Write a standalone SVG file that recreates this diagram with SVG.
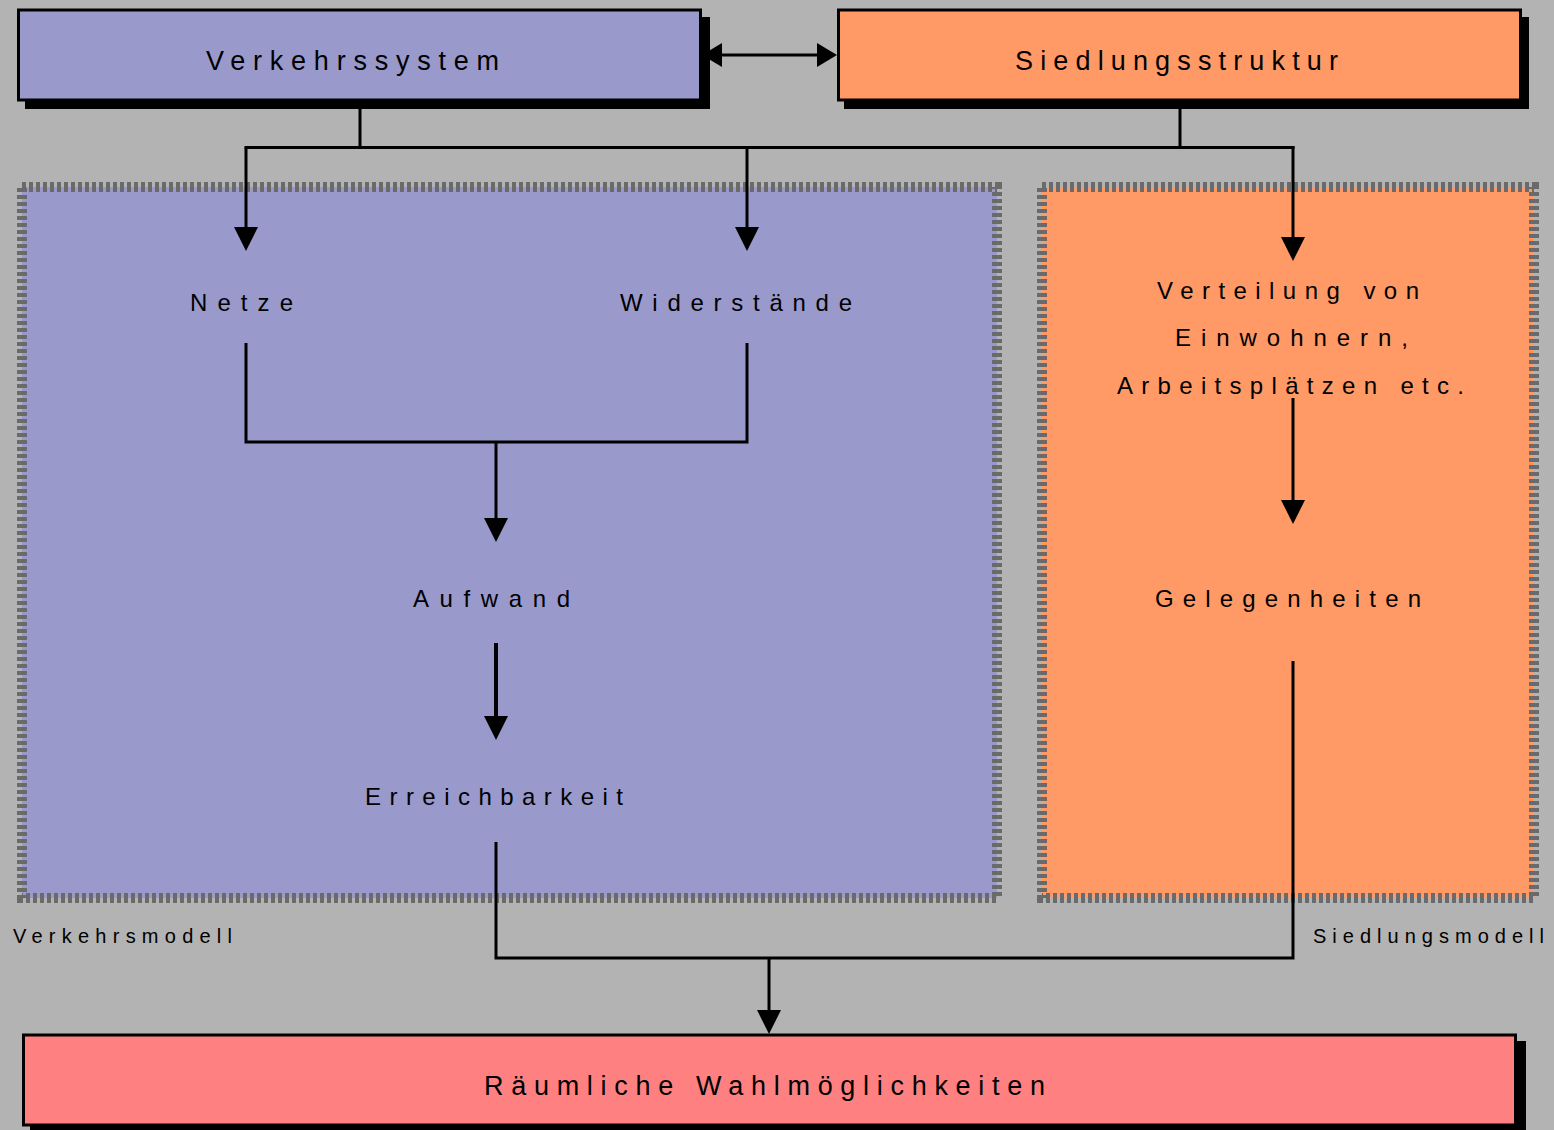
<svg xmlns="http://www.w3.org/2000/svg" width="1554" height="1130" viewBox="0 0 1554 1130">
<defs>
<style>
.bg{fill:#B3B3B3}
.region{stroke:#6A6A6A;stroke-width:10;stroke-dasharray:4 3}
.shadow{fill:#000}
.box{stroke:#000;stroke-width:3}
.ln{fill:none;stroke:#000;stroke-width:3}
.hd{fill:#000}
text{font-family:"Liberation Sans",Arial,sans-serif;fill:#000}
.t1{font-size:27px}
.t2{font-size:24px}
.t3{font-size:20px}
</style>
</defs>
<rect class="bg" x="0" y="0" width="1554" height="1130"/>
<g id="verkehrsmodell">
<rect class="region" x="22" y="187" width="975" height="711" fill="#9999CC"/>
<text class="t3" x="13" y="943" textLength="219" lengthAdjust="spacing">Verkehrsmodell</text>
</g>
<g id="siedlungsmodell">
<rect class="region" x="1042" y="187" width="492" height="711" fill="#FF9966"/>
<text class="t3" x="1313" y="943" textLength="231" lengthAdjust="spacing">Siedlungsmodell</text>
</g>
<g id="netze"><text class="t2" x="190" y="311" textLength="103" lengthAdjust="spacing">Netze</text></g>
<g id="widerstaende"><text class="t2" x="620" y="311" textLength="232" lengthAdjust="spacing">Widerstände</text></g>
<g id="aufwand"><text class="t2" x="413" y="607" textLength="157" lengthAdjust="spacing">Aufwand</text></g>
<g id="erreichbarkeit"><text class="t2" x="365" y="805" textLength="258" lengthAdjust="spacing">Erreichbarkeit</text></g>
<g id="verteilung">
<text class="t2" x="1157" y="299" textLength="262" lengthAdjust="spacing">Verteilung von</text>
<text class="t2" x="1175" y="346" textLength="233" lengthAdjust="spacing">Einwohnern,</text>
<text class="t2" x="1117" y="394" textLength="347" lengthAdjust="spacing">Arbeitsplätzen etc.</text>
</g>
<g id="gelegenheiten"><text class="t2" x="1155" y="607" textLength="266" lengthAdjust="spacing">Gelegenheiten</text></g>
<g id="connectors">
<line class="ln" x1="702" y1="55" x2="820" y2="55"/>
<polygon class="hd" points="702,55 722,43 722,67"/>
<polygon class="hd" points="837,55 817,43 817,67"/>
<line class="ln" x1="360" y1="101" x2="360" y2="147.5"/>
<line class="ln" x1="244.5" y1="147.5" x2="1294.5" y2="147.5"/>
<line class="ln" x1="1180" y1="101" x2="1180" y2="147.5"/>
<line class="ln" x1="246" y1="147.5" x2="246" y2="230"/>
<polygon class="hd" points="246,251 234,227 258,227"/>
<line class="ln" x1="747" y1="147.5" x2="747" y2="230"/>
<polygon class="hd" points="747,251 735,227 759,227"/>
<line class="ln" x1="1293" y1="146" x2="1293" y2="240"/>
<polygon class="hd" points="1293,261 1281,237 1305,237"/>
<polyline class="ln" points="246,343 246,442 747,442 747,343"/>
<line class="ln" x1="496" y1="442" x2="496" y2="520"/>
<polygon class="hd" points="496,542 484,518 508,518"/>
<line class="ln" x1="496" y1="643" x2="496" y2="720" style="stroke-width:4"/>
<polygon class="hd" points="496,740 484,716 508,716"/>
<line class="ln" x1="1293" y1="398" x2="1293" y2="502"/>
<polygon class="hd" points="1293,524 1281,500 1305,500"/>
<polyline class="ln" points="496,842 496,958 1293,958 1293,661"/>
<line class="ln" x1="769" y1="958" x2="769" y2="1012"/>
<polygon class="hd" points="769,1034 757,1010 781,1010"/>
</g>
<g id="verkehrssystem">
<rect class="shadow" x="25" y="17" width="685" height="92"/>
<rect class="box" x="18.5" y="10" width="682" height="90" fill="#9999CC"/>
<text class="t1" x="206" y="70" textLength="293" lengthAdjust="spacing">Verkehrssystem</text>
</g>
<g id="siedlungsstruktur">
<rect class="shadow" x="844" y="17" width="685" height="92"/>
<rect class="box" x="838.5" y="10" width="682" height="90" fill="#FF9966"/>
<text class="t1" x="1015" y="70" textLength="323" lengthAdjust="spacing">Siedlungsstruktur</text>
</g>
<g id="wahlmoeglichkeiten">
<rect class="shadow" x="30" y="1041" width="1496" height="95"/>
<rect class="box" x="23.5" y="1035" width="1492" height="90" fill="#FF8080"/>
<text class="t1" x="484" y="1095" textLength="561" lengthAdjust="spacing">Räumliche Wahlmöglichkeiten</text>
</g>
</svg>
